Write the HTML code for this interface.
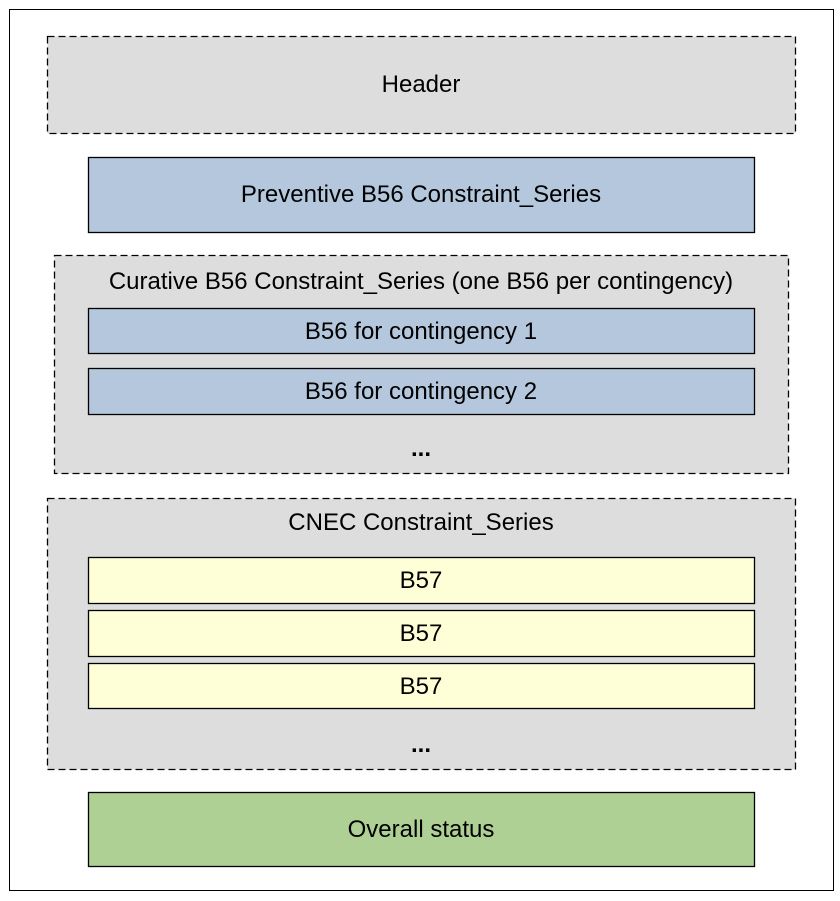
<!DOCTYPE html>
<html><head><meta charset="utf-8"><style>
html,body{margin:0;padding:0;background:#fff;width:840px;height:901px;overflow:hidden}
text{font-family:"Liberation Sans",sans-serif;font-size:24px;fill:#000}
</style></head><body>
<svg width="840" height="901" xmlns="http://www.w3.org/2000/svg">
<rect x="9.5" y="9.5" width="824" height="881" fill="#fff" stroke="#000" stroke-width="1"/>
<rect x="47.5" y="36.5" width="748" height="97" fill="#dddddd" stroke="#000" stroke-width="1.3" stroke-dasharray="7,4"/>
<text x="421" y="92" text-anchor="middle">Header</text>
<rect x="88.5" y="157.5" width="666" height="75" fill="#b4c7dc" stroke="#000" stroke-width="1.3"/>
<text x="421" y="202" text-anchor="middle">Preventive B56 Constraint_Series</text>
<rect x="54.5" y="255.5" width="734" height="218" fill="#dddddd" stroke="#000" stroke-width="1.3" stroke-dasharray="7,4"/>
<text x="421" y="289" text-anchor="middle">Curative B56 Constraint_Series (one B56 per contingency)</text>
<rect x="88.5" y="308.5" width="666" height="45" fill="#b4c7dc" stroke="#000" stroke-width="1.3"/>
<text x="421" y="339" text-anchor="middle">B56 for contingency 1</text>
<rect x="88.5" y="368.5" width="666" height="46" fill="#b4c7dc" stroke="#000" stroke-width="1.3"/>
<text x="421" y="399" text-anchor="middle">B56 for contingency 2</text>
<text x="421" y="456" text-anchor="middle" style="font-weight:bold">...</text>
<rect x="47.5" y="498.5" width="748" height="271" fill="#dddddd" stroke="#000" stroke-width="1.3" stroke-dasharray="7,4"/>
<text x="421" y="530" text-anchor="middle">CNEC Constraint_Series</text>
<rect x="88.5" y="557.5" width="666" height="46" fill="#ffffd7" stroke="#000" stroke-width="1.3"/>
<text x="421" y="588" text-anchor="middle">B57</text>
<rect x="88.5" y="610.5" width="666" height="46" fill="#ffffd7" stroke="#000" stroke-width="1.3"/>
<text x="421" y="641" text-anchor="middle">B57</text>
<rect x="88.5" y="663.5" width="666" height="45" fill="#ffffd7" stroke="#000" stroke-width="1.3"/>
<text x="421" y="694" text-anchor="middle">B57</text>
<text x="421" y="752" text-anchor="middle" style="font-weight:bold">...</text>
<rect x="88.5" y="792.5" width="666" height="74" fill="#afd095" stroke="#000" stroke-width="1.3"/>
<text x="421" y="837" text-anchor="middle">Overall status</text>
</svg>
</body></html>
